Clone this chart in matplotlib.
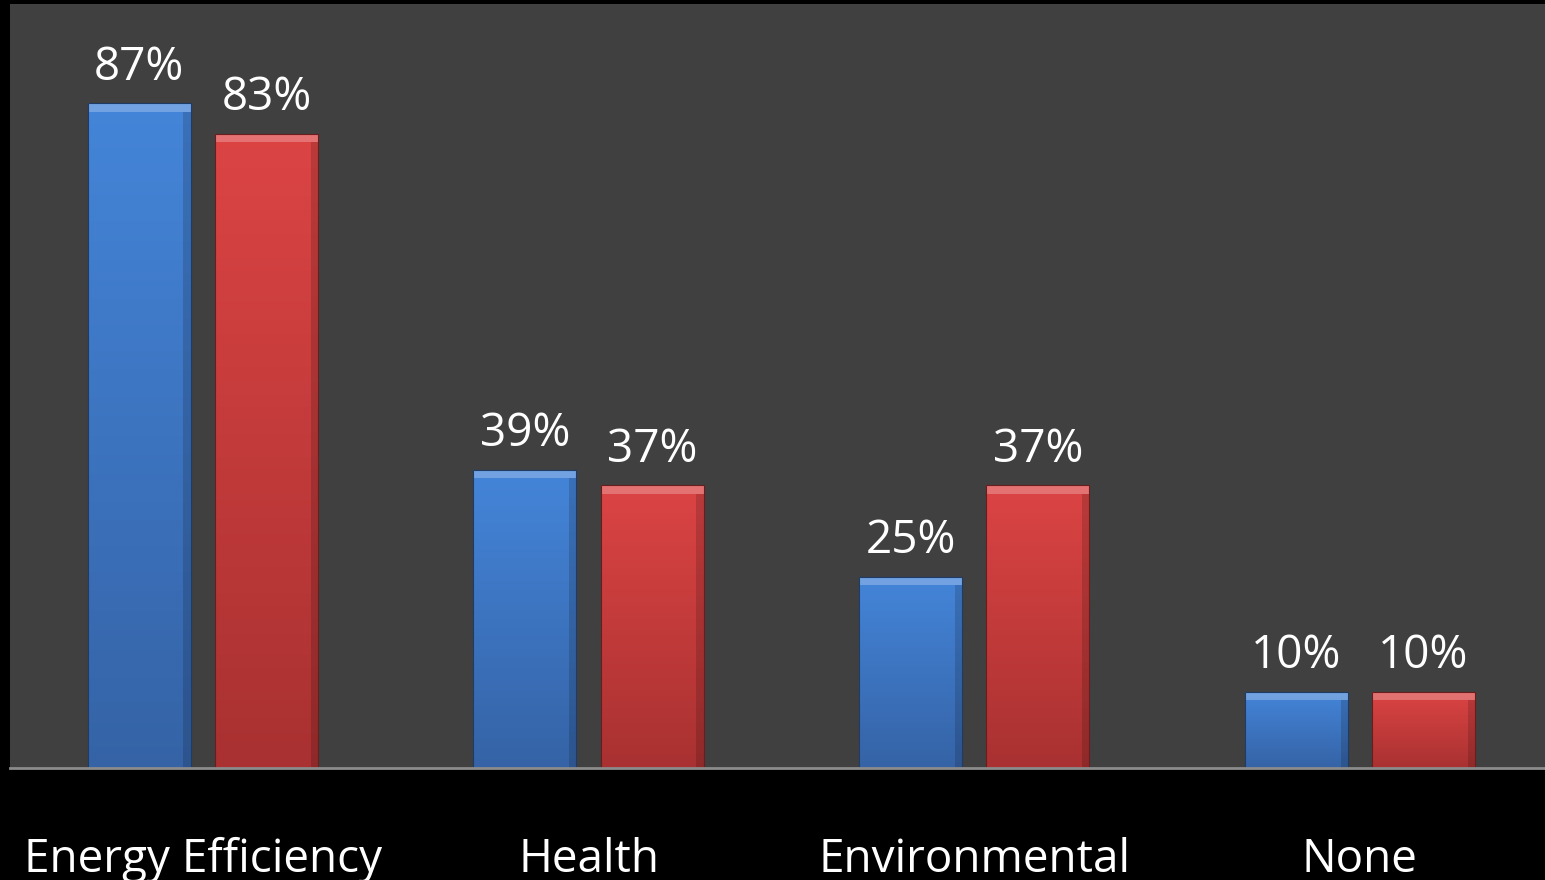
import numpy as np
import matplotlib
matplotlib.use('Agg')
import matplotlib.pyplot as plt
from matplotlib.colors import LinearSegmentedColormap
from matplotlib.patches import Rectangle

categories = ['Energy Efficiency', 'Health', 'Environmental', 'None']
series_a = [87, 39, 25, 10]   # blue
series_b = [83, 37, 37, 10]   # red
labels_a = ['87%', '39%', '25%', '10%']
labels_b = ['83%', '37%', '37%', '10%']

BLUE_TOP, BLUE_BOT = '#4485d9', '#3563a6'
RED_TOP, RED_BOT = '#dc4444', '#a93131'

plt.rcParams['font.family'] = ['Open Sans', 'DejaVu Sans']

fig = plt.figure(figsize=(15.45, 8.8), dpi=100, facecolor='black')
ax = fig.add_axes([10 / 1545, 112 / 880, 1535 / 1545, 764 / 880])
ax.set_facecolor('#404040')
ax.set_xlim(-0.5, 3.48)
ax.set_ylim(0, 100)

x = np.arange(len(categories))
width = 0.267
offset = 0.165


def gradient_bars(bars, top, bottom):
    cmap = LinearSegmentedColormap.from_list('g', [bottom, top])
    grad = np.linspace(0, 1, 256).reshape(-1, 1)
    for b in bars:
        x0, y0 = b.get_x(), b.get_y()
        w, h = b.get_width(), b.get_height()
        im = ax.imshow(grad, cmap=cmap, origin='lower', aspect='auto',
                       extent=(x0, x0 + w, y0, y0 + h), zorder=2)
        im.set_clip_path(b)
        # lighter bevel strip on top
        ax.add_patch(Rectangle((x0, y0 + h - 1.1), w, 1.1, color='white',
                               alpha=0.25, lw=0, zorder=3))
        # darker right edge
        ax.add_patch(Rectangle((x0 + w * 0.93, y0), w * 0.07, h - 1.1, color='black',
                               alpha=0.15, lw=0, zorder=3))
        b.set_facecolor('none')


bars_a = ax.bar(x - offset, series_a, width, edgecolor='#1f3c66', linewidth=0.8, zorder=4)
bars_b = ax.bar(x + offset, series_b, width, edgecolor='#6a1d1d', linewidth=0.8, zorder=4)
gradient_bars(bars_a, BLUE_TOP, BLUE_BOT)
gradient_bars(bars_b, RED_TOP, RED_BOT)

for bars, labs in [(bars_a, labels_a), (bars_b, labels_b)]:
    for b, lab in zip(bars, labs):
        ax.annotate(lab, (b.get_x() + b.get_width() / 2, b.get_height()),
                    xytext=(0, 17), textcoords='offset points',
                    ha='center', va='baseline', color='white', fontsize=33)

for xi, cat in zip(x, categories):
    ax.text(xi, -0.136, cat, transform=ax.get_xaxis_transform(),
            ha='center', va='baseline', color='white', fontsize=33)

for s in ['top', 'left', 'right']:
    ax.spines[s].set_visible(False)
ax.spines['bottom'].set_color('#8c8c8c')
ax.spines['bottom'].set_linewidth(2)
ax.spines['bottom'].set_zorder(5)
ax.set_xticks([])
ax.set_yticks([])

fig.savefig('out.png', dpi=100, facecolor='black')
